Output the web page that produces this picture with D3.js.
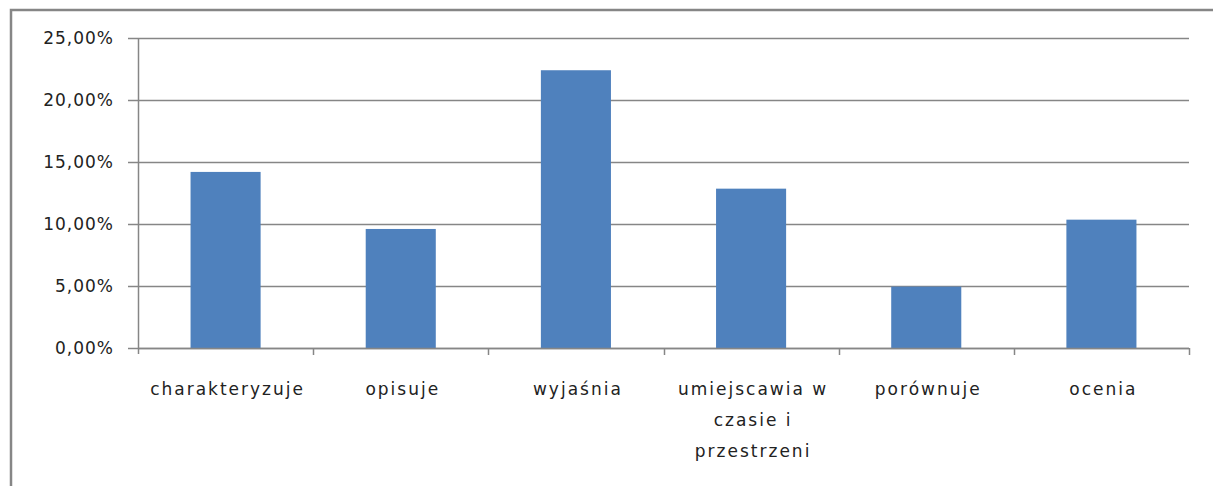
<!DOCTYPE html>
<html><head><meta charset="utf-8">
<script src="https://cdn.jsdelivr.net/npm/d3@7"></script>
<style>body{margin:0;background:#fff;} svg{display:block;}</style>
</head><body>
<svg id="c" width="1213" height="486"></svg>
<script>
const categories = ["charakteryzuje", "opisuje", "wyjaśnia", "umiejscawia w czasie i przestrzeni", "porównuje", "ocenia"];
const labelLines = [["charakteryzuje"], ["opisuje"], ["wyjaśnia"], ["umiejscawia w", "czasie i", "przestrzeni"], ["porównuje"], ["ocenia"]];
const values = [14.2, 9.6, 22.4, 12.85, 4.95, 10.35];
const yTicks = [0, 5, 10, 15, 20, 25];

(function () {
const svg = d3.select("#c");
const font = "'DejaVu Sans', sans-serif";
// outer border
svg.append("path").attr("d", "M11,486 L11,10 L1213,10").attr("fill", "none").attr("stroke", "#868686").attr("stroke-width", 2.5);

const pLeft = 138, pRight = 1189, pTop = 38, pBottom = 348;
const x = d3.scaleBand().domain(categories).range([pLeft, pRight]).paddingInner(0.6).paddingOuter(0.3);
const xb = d3.scaleBand().domain(categories).range([pLeft, pRight]);
const y = d3.scaleLinear().domain([0, 25]).range([pBottom, pTop]);

// gridlines
svg.append("g").selectAll("line").data(yTicks).join("line")
  .attr("x1", pLeft - 10).attr("x2", pRight).attr("y1", d => Math.round(y(d)) + 0.5).attr("y2", d => Math.round(y(d)) + 0.5)
  .attr("stroke", "#868686").attr("stroke-width", 1.5);

// y axis line
svg.append("line").attr("x1", pLeft + 0.5).attr("x2", pLeft + 0.5).attr("y1", pTop).attr("y2", pBottom + 6)
  .attr("stroke", "#868686").attr("stroke-width", 1.5);

// y labels
svg.append("g").selectAll("text").data(yTicks).join("text")
  .attr("x", 114).attr("y", d => y(d)).attr("dy", "0.36em").attr("text-anchor", "end")
  .attr("font-family", font).attr("font-size", 17).attr("letter-spacing", "1px").attr("fill", "#222")
  .text(d => d.toFixed(2).replace(".", ",") + "%");

// x ticks at band boundaries
const bounds = categories.map(c => xb(c)).concat([pRight]);
svg.append("g").selectAll("line").data(bounds.slice(1)).join("line")
  .attr("x1", d => Math.round(d) + 0.5).attr("x2", d => Math.round(d) + 0.5).attr("y1", pBottom).attr("y2", pBottom + 7)
  .attr("stroke", "#868686").attr("stroke-width", 1.5);

// bars
svg.append("g").selectAll("rect").data(values).join("rect")
  .attr("x", (d, i) => x(categories[i])).attr("width", x.bandwidth())
  .attr("y", d => y(d)).attr("height", d => pBottom - y(d))
  .attr("fill", "#4F81BD");

// x axis line
svg.append("line").attr("x1", pLeft).attr("x2", pRight).attr("y1", pBottom + 0.5).attr("y2", pBottom + 0.5)
  .attr("stroke", "#868686").attr("stroke-width", 1.5);

// x labels
const lg = svg.append("g");
categories.forEach((c, i) => {
  const t = lg.append("text").attr("text-anchor", "middle")
    .attr("font-family", font).attr("font-size", 17).attr("letter-spacing", "2px").attr("fill", "#222");
  labelLines[i].forEach((ln, j) => {
    t.append("tspan").attr("x", xb(c) + xb.bandwidth() / 2 + 2).attr("y", 395 + j * 31).text(ln);
  });
});
})();
</script>
</body></html>
